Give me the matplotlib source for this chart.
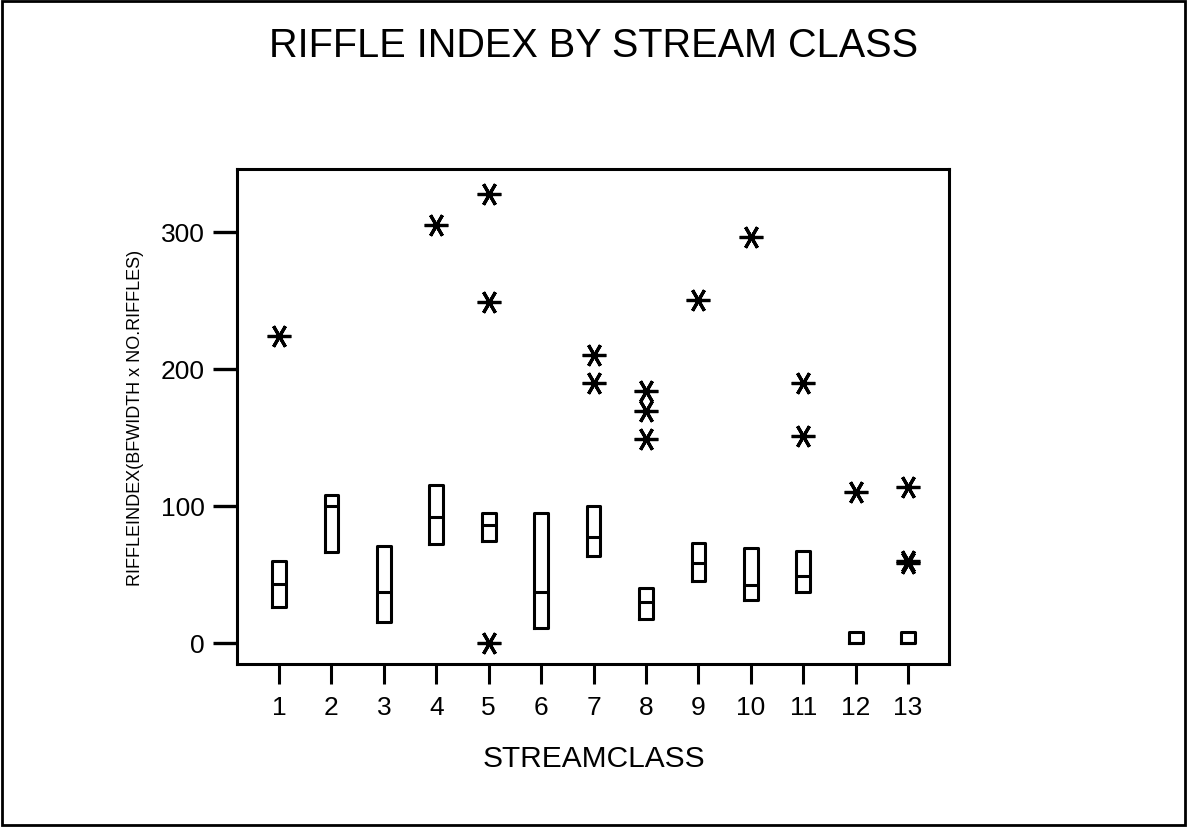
import matplotlib
matplotlib.use("Agg")
import matplotlib.pyplot as plt
from matplotlib.patches import Rectangle

plt.rcParams['font.family'] = ['Liberation Sans', 'DejaVu Sans']

# stream classes and the riffle index box summaries (lower quartile, median, upper quartile)
classes = [1, 2, 3, 4, 5, 6, 7, 8, 9, 10, 11, 12, 13]
q1 = [26, 66, 15, 72, 74, 11, 63, 17, 45, 31, 37, 0, 0]
median = [43, 100, 37, 92, 86, 37, 77, 30, 58, 42, 49, 0, 0]
q3 = [60, 108, 71, 115, 95, 95, 100, 40, 73, 69, 67, 8, 8]
# outlying values for each class
outliers = [
    [224],
    [],
    [],
    [305],
    [328, 249, 0],
    [],
    [210, 190],
    [184, 169, 149],
    [250],
    [296],
    [190, 151],
    [110],
    [114, 60, 58],
]

# boxes only, no whiskers: whisker ends sit on the box edges
stats = []
for i in range(len(classes)):
    stats.append({'q1': q1[i], 'med': median[i], 'q3': q3[i],
                  'whislo': q1[i], 'whishi': q3[i], 'fliers': outliers[i]})

fig = plt.figure(figsize=(11.87, 8.28), dpi=100)
ax = fig.add_axes([0.1997, 0.1969, 0.5998, 0.5978])

lw = 2.2
ax.bxp(stats, positions=classes, widths=0.26, showcaps=False,
       boxprops=dict(color='black', linewidth=lw),
       medianprops=dict(color='black', linewidth=lw),
       whiskerprops=dict(color='black', linewidth=lw),
       flierprops=dict(marker=(6, 2, 30), markersize=17, markeredgewidth=2.3,
                       markeredgecolor='black', markerfacecolor='black', linestyle='none'))

ax.set_xlim(0.2, 13.78)
ax.set_ylim(-15.5, 346)
ax.set_xticks(classes)
ax.set_xticklabels([str(c) for c in classes])
ax.set_yticks([0, 100, 200, 300])

for side in ['left', 'right', 'top', 'bottom']:
    ax.spines[side].set_linewidth(lw)
ax.tick_params(axis='y', direction='out', length=17, width=2.4, pad=6, labelsize=19)
ax.tick_params(axis='x', direction='out', length=14.5, width=2.2, pad=8, labelsize=19)

ax.set_ylabel('RIFFLEINDEX(BFWIDTH x NO.RIFFLES)', fontsize=13, labelpad=12)
fig.text(0.5, 1 - 759 / 828, 'STREAMCLASS', fontsize=21.5, ha='center', va='center')
fig.text(0.5, 1 - 46 / 828, 'RIFFLE INDEX BY STREAM CLASS', fontsize=28.5, ha='center', va='center')

# outer frame around the whole figure
fig.patches.append(Rectangle((0.002, 0.002), 0.996, 0.996, transform=fig.transFigure,
                             fill=False, linewidth=2, edgecolor='black'))

fig.savefig('out.png', dpi=100)
